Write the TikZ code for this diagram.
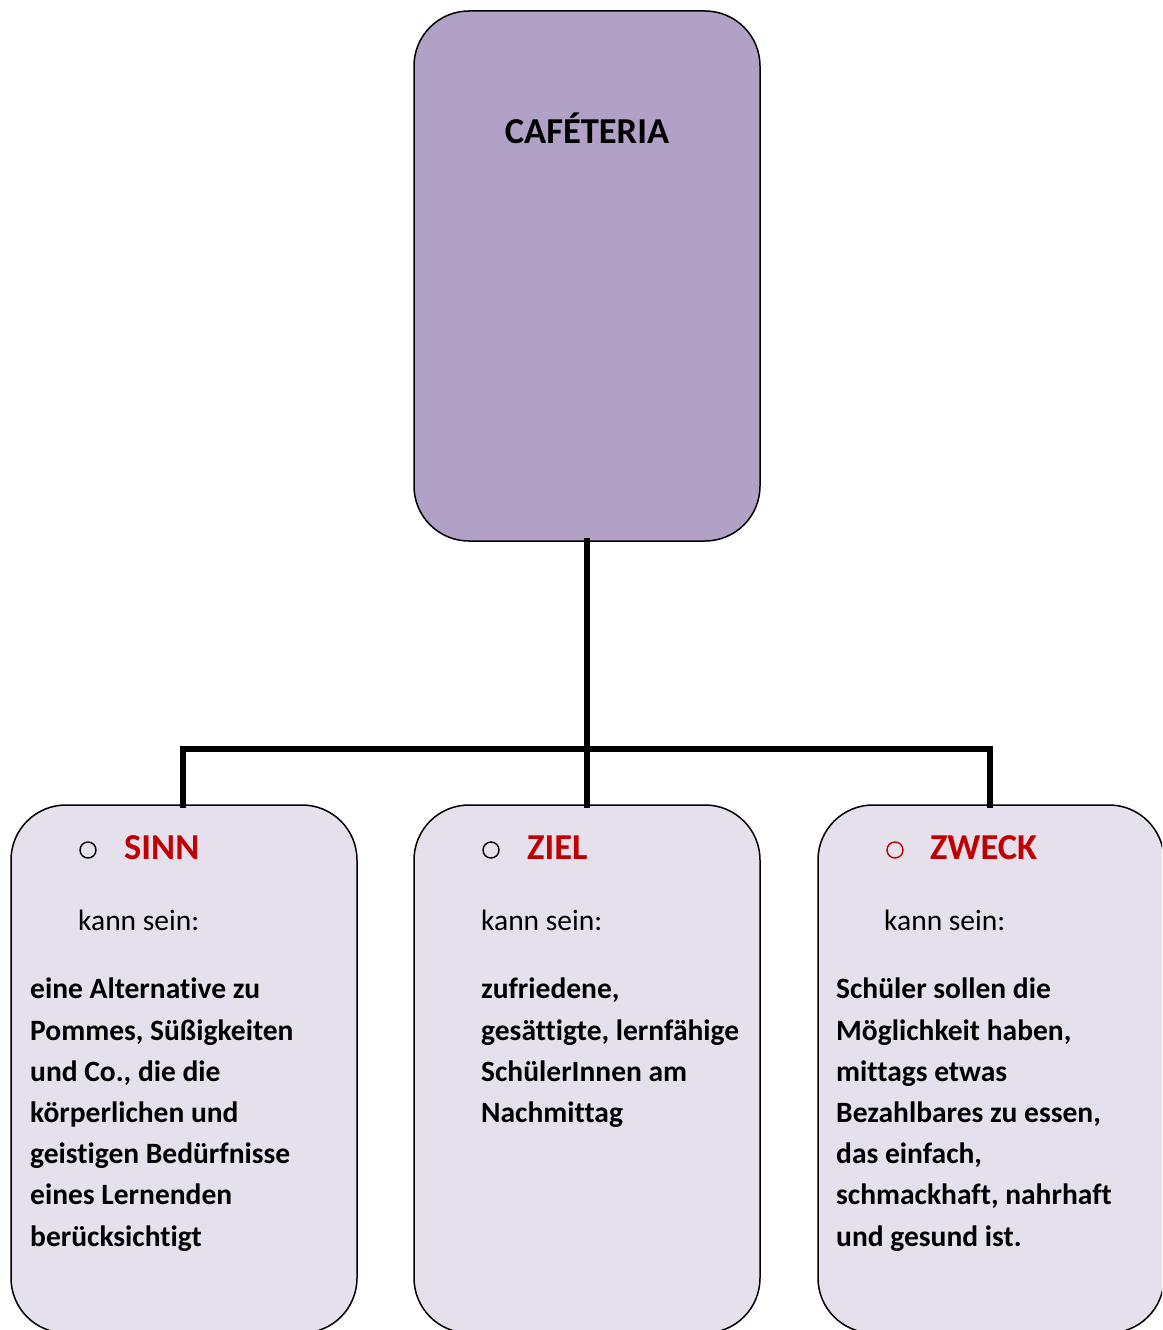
\documentclass[tikz,border=0pt]{standalone}
\usepackage{fontspec}
\setmainfont{Carlito}[Ligatures=NoCommon]
\definecolor{topfill}{HTML}{B2A1C7}
\definecolor{boxfill}{HTML}{E5E0EC}
\definecolor{headred}{HTML}{C00000}
\tikzset{
  x=1pt, y=-1pt,
  topbox/.style={draw=black, line width=1.5pt, fill=topfill, rounded corners=55pt},
  subbox/.style={draw=black, line width=1.5pt, fill=boxfill, rounded corners=55pt},
  link/.style={line width=5.5pt, line cap=rect},
  headtxt/.style={anchor=base west, inner sep=0pt, text=headred, font=\fontsize{36.5}{42}\selectfont\bfseries},
  kanntxt/.style={anchor=base west, inner sep=0pt, font=\fontsize{29.5}{41.2}\selectfont},
  % multi-line block: anchored at the baseline of its last line
  bodytxt/.style={anchor=base west, inner sep=0pt, align=left, font=\fontsize{29.5}{41.2}\selectfont\bfseries},
  bullet/.style={circle, draw, line width=1.4pt, minimum size=16pt, inner sep=0pt},
}
\begin{document}
\begin{tikzpicture}
\clip (0,0) rectangle (1162,1330);
\useasboundingbox (0,0) rectangle (1162,1330);

% top box
\draw[topbox] (414,11) rectangle (760,541);
\coordinate (topS) at (587,541);
\node[anchor=base, inner sep=0pt, font=\fontsize{36.5}{42}\selectfont\bfseries] (title) at (587,143) {CAFÉTERIA};

% three lower boxes
\draw[subbox] (11,805) rectangle (357,1333);
\draw[subbox] (414,805) rectangle (760,1333);
\draw[subbox] (818,805) rectangle (1164,1333);
\coordinate (sinnN) at (183,805);
\coordinate (zielN) at (587,805);
\coordinate (zweckN) at (990,805);

% connectors
\coordinate (bus) at (587,749);
\coordinate (busL) at (183,749);
\coordinate (busR) at (990,749);
\draw[link] (topS) -- (bus);
\draw[link] (sinnN) -- (busL) -- (busR) -- (zweckN);
\draw[link] (bus) -- (zielN);

% SINN
\node[bullet] (b1) at (88,850) {};
\node[headtxt] (h1) at (124,859) {SINN};
\node[kanntxt] (k1) at (78,930) {kann sein:};
\node[bodytxt] (t1) at (30,1246) {eine Alternative zu\\Pommes, Süßigkeiten\\und Co., die die\\körperlichen und\\geistigen Bedürfnisse\\eines Lernenden\\berücksichtigt};

% ZIEL
\node[bullet] (b2) at (491,850) {};
\node[headtxt] (h2) at (527,859) {ZIEL};
\node[kanntxt] (k2) at (481,930) {kann sein:};
\node[bodytxt] (t2) at (481,1122.5) {zufriedene,\\gesättigte, lernfähige\\SchülerInnen am\\Nachmittag};

% ZWECK
\node[bullet, draw=headred] (b3) at (895,850) {};
\node[headtxt] (h3) at (930,859) {ZWECK};
\node[kanntxt] (k3) at (884,930) {kann sein:};
\node[bodytxt] (t3) at (836,1246) {Schüler sollen die\\Möglichkeit haben,\\mittags etwas\\Bezahlbares zu essen,\\das einfach,\\schmackhaft, nahrhaft\\und gesund ist.};
\end{tikzpicture}
\end{document}
